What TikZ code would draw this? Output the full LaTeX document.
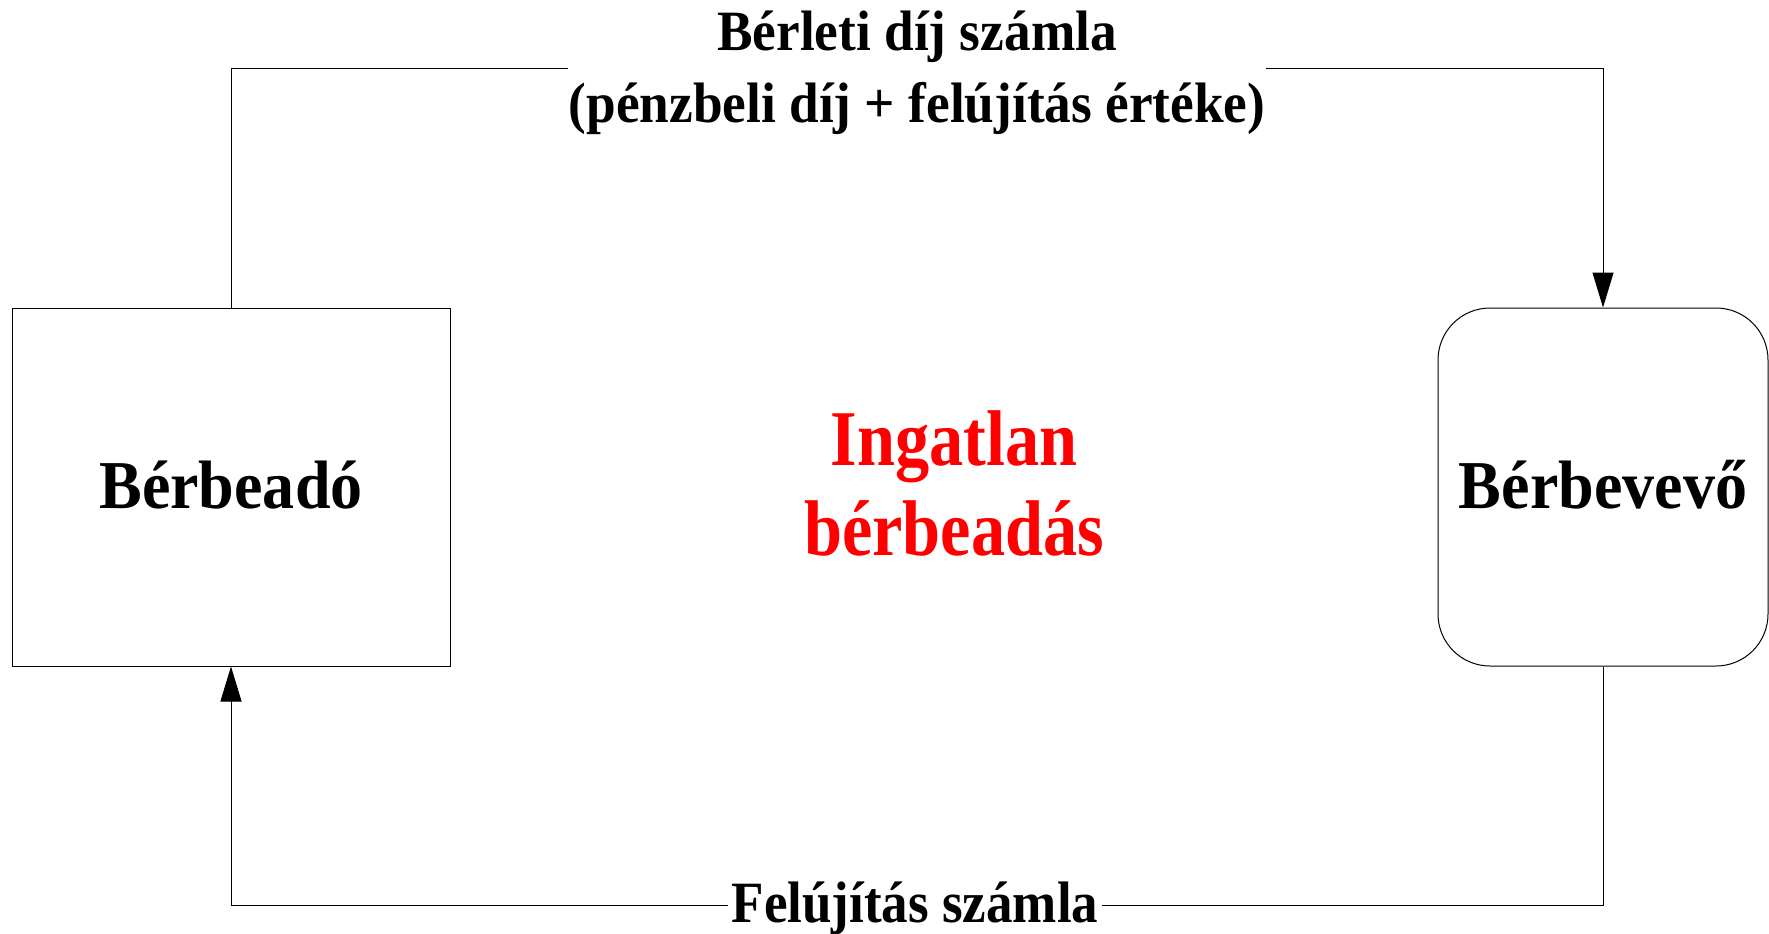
\documentclass[tikz,border=0pt]{standalone}
\usepackage{fontspec}
\setmainfont{Liberation Serif}
\newfontfamily\topfont[FakeStretch=0.935]{Liberation Serif}
\newfontfamily\boxfont[FakeStretch=0.935]{Liberation Serif}
\newfontfamily\redfont[FakeStretch=0.865]{Liberation Serif}
\newfontfamily\botfont[FakeStretch=0.906]{Liberation Serif}
\usetikzlibrary{arrows.meta}
\begin{document}
\begin{tikzpicture}[x=1pt,y=-1pt,
  party/.style={draw=black, line width=1pt, minimum width=#1, minimum height=358pt,
    inner sep=0pt, text height=42pt, text depth=0pt,
    font={\boxfont\bfseries\fontsize{68.5}{80}\selectfont}},
  conn/.style={draw=black, line width=1pt, -{Triangle[length=35pt,width=21pt]}},
  lab/.style={fill=white, inner ysep=0pt, anchor=base}]
\useasboundingbox (0,0) rectangle (1769,934);
\fill[white] (0,0) rectangle (1769,934);
\node[party=438pt] (L) at (231,487) {Bérbeadó};
\node[party=330pt, rounded corners=52pt] (R) at (1603,487) {Bérbevevő};
\coordinate (tl) at (0,68.8);
\coordinate (bl) at (0,905);
\draw[conn] (L.north) -- (L.north |- tl) -- (R.north |- tl) -- (R.north);
\draw[conn] (R.south) -- (R.south |- bl) -- (L.south |- bl) -- (L.south);
\node[lab, inner xsep=1pt, font={\topfont\bfseries\fontsize{57}{72}\selectfont}] (top) at (917,122)
  {\begin{tabular}[b]{@{}c@{}}Bérleti díj számla\\(pénzbeli díj + felújítás értéke)\end{tabular}};
\node[lab, inner xsep=4pt, font={\botfont\bfseries\fontsize{58.5}{68}\selectfont}] (bot) at (915,922)
  {Felújítás számla};
\node[anchor=base, inner sep=0pt, text=red, font={\redfont\bfseries\fontsize{79}{90}\selectfont}] (mid) at (954,555)
  {\begin{tabular}[b]{@{}c@{}}Ingatlan\\bérbeadás\end{tabular}};
\end{tikzpicture}
\end{document}
